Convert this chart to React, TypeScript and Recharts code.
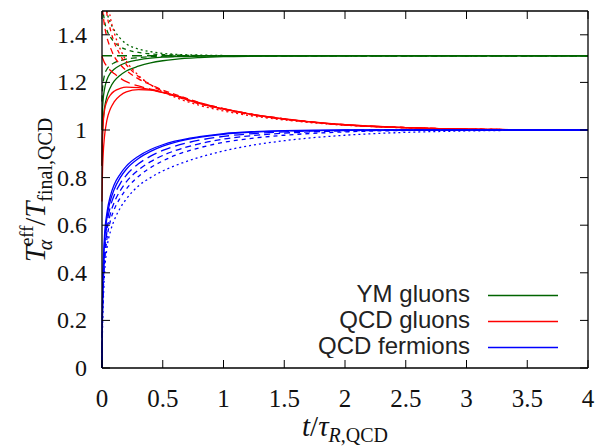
import { Legend, Line, LineChart, XAxis, YAxis } from "recharts";

// sample times (t / tau_R,QCD)
const T = [0, 0.003, 0.01, 0.02, 0.04, 0.07, 0.1, 0.15, 0.2, 0.3, 0.4, 0.5, 0.6, 0.8, 1.0, 1.25, 1.5, 2, 2.5, 3, 3.5, 4];

// YM gluons, one row per initial condition
const ymGluons = [
  [0.85, 0.95, 1.04, 1.09, 1.14, 1.18, 1.205, 1.23, 1.248, 1.268, 1.282, 1.291, 1.297, 1.304, 1.308, 1.31, 1.311, 1.312, 1.312, 1.312, 1.312, 1.312],
  [1.0, 1.07, 1.13, 1.17, 1.21, 1.24, 1.255, 1.272, 1.283, 1.295, 1.302, 1.306, 1.308, 1.31, 1.311, 1.312, 1.312, 1.312, 1.312, 1.312, 1.312, 1.312],
  [1.312, 1.312, 1.312, 1.312, 1.312, 1.312, 1.312, 1.312, 1.312, 1.312, 1.312, 1.312, 1.312, 1.312, 1.312, 1.312, 1.312, 1.312, 1.312, 1.312, 1.312, 1.312],
  [1.12, 1.16, 1.2, 1.23, 1.255, 1.272, 1.282, 1.292, 1.298, 1.304, 1.308, 1.31, 1.311, 1.312, 1.312, 1.312, 1.312, 1.312, 1.312, 1.312, 1.312, 1.312],
  [1.62, 1.56, 1.5, 1.46, 1.42, 1.39, 1.37, 1.35, 1.338, 1.326, 1.32, 1.317, 1.315, 1.313, 1.312, 1.312, 1.312, 1.312, 1.312, 1.312, 1.312, 1.312],
  [1.9, 1.78, 1.66, 1.58, 1.5, 1.45, 1.42, 1.385, 1.362, 1.34, 1.329, 1.322, 1.318, 1.315, 1.313, 1.312, 1.312, 1.312, 1.312, 1.312, 1.312, 1.312],
];

// QCD gluons
const qcdGluons = [
  [0.7, 0.8, 0.9, 0.97, 1.04, 1.09, 1.118, 1.145, 1.16, 1.17, 1.168, 1.157, 1.143, 1.112, 1.088, 1.064, 1.046, 1.022, 1.01, 1.004, 1.001, 1.0],
  [0.85, 0.95, 1.03, 1.08, 1.12, 1.148, 1.163, 1.175, 1.18, 1.178, 1.17, 1.158, 1.144, 1.113, 1.089, 1.065, 1.047, 1.022, 1.01, 1.004, 1.001, 1.0],
  [1.31, 1.305, 1.295, 1.283, 1.268, 1.25, 1.237, 1.218, 1.203, 1.185, 1.172, 1.16, 1.146, 1.115, 1.09, 1.065, 1.047, 1.022, 1.01, 1.004, 1.001, 1.0],
  [1.55, 1.52, 1.48, 1.44, 1.39, 1.345, 1.31, 1.275, 1.25, 1.215, 1.19, 1.168, 1.15, 1.116, 1.09, 1.065, 1.047, 1.022, 1.01, 1.004, 1.001, 1.0],
  [1.9, 1.8, 1.68, 1.59, 1.49, 1.42, 1.37, 1.315, 1.275, 1.225, 1.19, 1.163, 1.143, 1.11, 1.086, 1.062, 1.045, 1.021, 1.01, 1.004, 1.001, 1.0],
  [2.2, 2.0, 1.85, 1.72, 1.58, 1.47, 1.41, 1.34, 1.29, 1.23, 1.19, 1.16, 1.138, 1.104, 1.08, 1.058, 1.042, 1.02, 1.009, 1.004, 1.001, 1.0],
];

// QCD fermions
const qcdFermions = [
  [0, 0.25, 0.43, 0.55, 0.65, 0.725, 0.77, 0.815, 0.848, 0.89, 0.918, 0.938, 0.953, 0.972, 0.985, 0.993, 0.997, 1, 1, 1, 1, 1],
  [0, 0.22, 0.4, 0.52, 0.63, 0.705, 0.75, 0.8, 0.835, 0.88, 0.91, 0.932, 0.948, 0.969, 0.982, 0.991, 0.996, 0.999, 1, 1, 1, 1],
  [0, 0.2, 0.37, 0.49, 0.6, 0.68, 0.725, 0.775, 0.81, 0.858, 0.89, 0.914, 0.932, 0.957, 0.973, 0.985, 0.992, 0.998, 1, 1, 1, 1],
  [0, 0.18, 0.34, 0.46, 0.57, 0.65, 0.695, 0.745, 0.782, 0.832, 0.867, 0.893, 0.913, 0.942, 0.962, 0.977, 0.987, 0.996, 0.999, 1, 1, 1],
  [0, 0.16, 0.31, 0.43, 0.54, 0.62, 0.665, 0.715, 0.752, 0.805, 0.842, 0.87, 0.893, 0.925, 0.948, 0.966, 0.978, 0.992, 0.998, 1, 1, 1],
  [0, 0.13, 0.27, 0.39, 0.5, 0.575, 0.62, 0.672, 0.71, 0.765, 0.8, 0.828, 0.85, 0.885, 0.912, 0.937, 0.955, 0.978, 0.99, 0.996, 0.999, 1],
];

const X_TICKS = [0, 0.5, 1, 1.5, 2, 2.5, 3, 3.5, 4];
const Y_TICKS = [0, 0.2, 0.4, 0.6, 0.8, 1, 1.2, 1.4];

const SERIES = [
  { key: "ym", label: "YM gluons", color: "#006400", values: ymGluons },
  { key: "qg", label: "QCD gluons", color: "#ff0000", values: qcdGluons },
  { key: "qf", label: "QCD fermions", color: "#0000ff", values: qcdFermions },
];

// line style per initial condition (gnuplot dash types)
const DASHES = ["", "", "10 5", "6 4", "4 4", "2 3"];

const W = 596;
const H = 447;
// axes take 1px each, plot box ends up at x 102..588, y 11..368
const M = { top: 10, right: 7, left: 101, bottom: 78 };
const SERIF = "'Liberation Serif', 'Times New Roman', serif";
const SANS = "'Liberation Sans', Arial, sans-serif";
const TICK_LEN = 8;
const AXIS_LINE = { stroke: "#000", strokeWidth: 1.3 };

const rows = T.map((t, i) => {
  const row: Record<string, number> = { t };
  SERIES.forEach((s) => s.values.forEach((v, j) => (row[`${s.key}${j}`] = v[i])));
  return row;
});

function BottomTick({ x, y, payload }: any) {
  return (
    <g>
      <line x1={x} y1={y} x2={x} y2={y - TICK_LEN} stroke="#000" />
      <text x={x} y={y + 39} textAnchor="middle" fontFamily={SERIF} fontSize={25} fill="#111">
        {payload.value}
      </text>
    </g>
  );
}

function TopTick({ x, y }: any) {
  return <line x1={x} y1={y} x2={x} y2={y + TICK_LEN} stroke="#000" />;
}

function LeftTick({ x, y, payload }: any) {
  return (
    <g>
      <line x1={x} y1={y} x2={x + TICK_LEN} y2={y} stroke="#000" />
      <text x={x - 15} y={y + 8} textAnchor="end" fontFamily={SERIF} fontSize={24} fill="#111">
        {payload.value}
      </text>
    </g>
  );
}

function RightTick({ x, y }: any) {
  return <line x1={x} y1={y} x2={x - TICK_LEN} y2={y} stroke="#000" />;
}

function XTitle() {
  return (
    <text x={345} y={436} textAnchor="middle" fontFamily={SERIF} fontSize={29} fill="#111">
      <tspan fontStyle="italic">t</tspan>
      <tspan>/</tspan>
      <tspan fontStyle="italic">τ</tspan>
      <tspan fontSize={20} dy={6}>
        <tspan fontStyle="italic">R</tspan>,QCD
      </tspan>
    </text>
  );
}

function YTitle() {
  return (
    <text transform="translate(45,190) rotate(-90)" x={0} y={0} textAnchor="middle" fontFamily={SERIF} fontSize={29} fill="#111">
      <tspan fontStyle="italic">T</tspan>
      <tspan fontSize={19} dy={-12}>eff</tspan>
      <tspan fontSize={20} fontStyle="italic" dx={-25} dy={19}>α</tspan>
      <tspan dx={14} dy={-7}>/</tspan>
      <tspan fontStyle="italic">T</tspan>
      <tspan fontSize={20} dy={7}>final,QCD</tspan>
    </text>
  );
}

function KeyBox() {
  return (
    <svg width={290} height={80} style={{ display: "block" }}>
      {SERIES.map((s, i) => (
        <g key={s.key}>
          <text x={180} y={24 + 26 * i} textAnchor="end" fontFamily={SANS} fontSize={24} fill="#222">
            {s.label}
          </text>
          <line x1={198} x2={268} y1={17.5 + 26 * i} y2={17.5 + 26 * i} stroke={s.color} strokeWidth={1.3} />
        </g>
      ))}
    </svg>
  );
}

export default function App() {
  return (
    <div style={{ position: "absolute", left: 0, top: 0, background: "#fff" }}>
      <LineChart width={W} height={H} data={rows} margin={M}>
        <XAxis
          dataKey="t"
          type="number"
          domain={[0, 4]}
          ticks={X_TICKS}
          height={1}
          tickSize={0}
          tickMargin={0}
          tickLine={false}
          tick={BottomTick}
          axisLine={AXIS_LINE}
          label={<XTitle />}
        />
        <XAxis
          xAxisId="top"
          orientation="top"
          dataKey="t"
          type="number"
          domain={[0, 4]}
          ticks={X_TICKS}
          height={1}
          tickSize={0}
          tickMargin={0}
          tickLine={false}
          tick={TopTick}
          axisLine={AXIS_LINE}
        />
        <YAxis
          type="number"
          domain={[0, 1.5]}
          ticks={Y_TICKS}
          allowDataOverflow
          width={1}
          tickSize={0}
          tickMargin={0}
          tickLine={false}
          tick={LeftTick}
          axisLine={AXIS_LINE}
          label={<YTitle />}
        />
        <YAxis
          yAxisId="right"
          orientation="right"
          type="number"
          domain={[0, 1.5]}
          ticks={Y_TICKS}
          allowDataOverflow
          width={1}
          tickSize={0}
          tickMargin={0}
          tickLine={false}
          tick={RightTick}
          axisLine={AXIS_LINE}
        />
        <Legend
          layout="horizontal"
          verticalAlign="middle"
          align="center"
          content={<KeyBox />}
          wrapperStyle={{ left: 290, top: 278, width: 290, height: 80 }}
        />
        {SERIES.map((s) =>
          s.values.map((_, j) => (
            <Line
              key={`${s.key}${j}`}
              type="monotone"
              dataKey={`${s.key}${j}`}
              name={s.label}
              stroke={s.color}
              strokeWidth={1.3}
              strokeDasharray={DASHES[j] || undefined}
              dot={false}
              activeDot={false}
              isAnimationActive={false}
            />
          )),
        )}
      </LineChart>
    </div>
  );
}
